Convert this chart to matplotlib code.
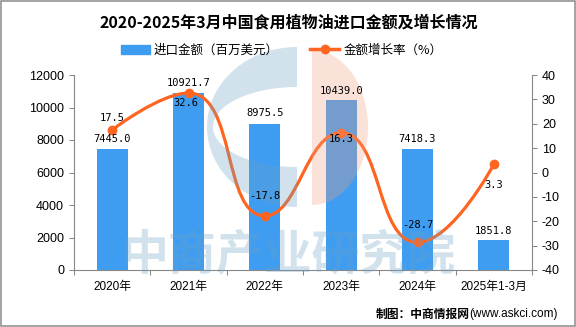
import numpy as np
import matplotlib
matplotlib.use("Agg")
import matplotlib.pyplot as plt
from matplotlib.path import Path
from matplotlib.patches import PathPatch, Polygon, Rectangle, Patch
from matplotlib.lines import Line2D
from matplotlib.transforms import offset_copy

plt.rcParams['font.family'] = ['Liberation Sans', 'Noto Sans CJK SC']
plt.rcParams['axes.unicode_minus'] = False

# data
categories = ['2020年', '2021年', '2022年', '2023年', '2024年', '2025年1-3月']
import_value = [7445.0, 10921.7, 8975.5, 10439.0, 7418.3, 1851.8]   # 百万美元
growth_rate = [17.5, 32.6, -17.8, 16.3, -28.7, 3.3]                 # %

# label offsets (pixels, up is positive) as placed in the original
bar_label_dy = [10, 10, 11, 9, 10, 9]
rate_label_dx = [0, -3, 0, 0, 0, 0]
rate_label_dy = [12, -10, 20, -6, 17, -21]

BAR = '#3f9df1'
LINE = '#fe6520'
GREY = '#888888'
CJK = ['Noto Sans CJK SC', 'DejaVu Sans']
MONO = ['DejaVu Sans Mono']


def echarts_smooth(pts, smooth=0.5):
    # bezier control points the way echarts builds a smooth line
    verts = [pts[0]]
    codes = [Path.MOVETO]
    cp0 = pts[0]
    n = len(pts)
    for i in range(1, n):
        prev, cur = pts[i - 1], pts[i]
        if i == n - 1:
            cp1 = cur
            ncp0 = cur
        else:
            nxt = pts[i + 1]
            l0 = np.hypot(*(cur - prev))
            l1 = np.hypot(*(nxt - cur))
            r = l1 / (l0 + l1)
            v = nxt - prev
            ncp0 = cur + v * smooth * r
            ncp0 = np.clip(ncp0, np.minimum(nxt, cur), np.maximum(nxt, cur))
            cp1 = cur - (ncp0 - cur) * l0 / l1
            cp1 = np.clip(cp1, np.minimum(prev, cur), np.maximum(prev, cur))
            ncp0 = cur + (cur - cp1) * l1 / l0
        verts += [cp0, cp1, cur]
        codes += [Path.CURVE4] * 3
        cp0 = ncp0
    return np.array(verts), codes


fig = plt.figure(figsize=(5.76, 3.27), dpi=100)
ax = fig.add_axes([74 / 576, 57 / 327, 458 / 576, 195 / 327])
x = np.arange(len(categories))

ax.bar(x, import_value, width=0.41, color=BAR, zorder=2)
ax.set_xlim(-0.5, len(categories) - 0.5)
ax.set_ylim(0, 12000)
ax.set_yticks(np.arange(0, 12001, 2000))
ax.set_xticks(np.arange(len(categories) + 1) - 0.5)
ax.set_xticklabels([])
ax.set_xticks(x, minor=True)
ax.set_xticklabels(categories, minor=True)
ax.tick_params(axis='x', which='major', length=3.6, width=0.75, color=GREY)
ax.tick_params(axis='x', which='minor', length=0, pad=8, labelsize=8.5)
ax.tick_params(axis='y', length=3.6, width=0.75, color=GREY, pad=3.6, labelsize=9)
for s in ['top', 'right']:
    ax.spines[s].set_visible(False)
for s in ['left', 'bottom']:
    ax.spines[s].set_color(GREY)
    ax.spines[s].set_linewidth(0.8)

ax2 = ax.twinx()
ax2.set_ylim(-40, 40)
ax2.set_yticks(np.arange(-40, 41, 10))
ax2.tick_params(axis='y', length=3.6, width=0.75, color=GREY, pad=3.6, labelsize=9)
for s in ['top', 'left', 'bottom']:
    ax2.spines[s].set_visible(False)
ax2.spines['right'].set_color(GREY)
ax2.spines['right'].set_linewidth(0.8)

# smooth growth line
pts = ax2.transData.transform(np.column_stack([x, growth_rate]))
verts, codes = echarts_smooth(pts)
verts = ax2.transData.inverted().transform(verts)
ax2.add_patch(PathPatch(Path(verts, codes), fill=False, edgecolor=LINE, lw=2.3,
                        zorder=3, capstyle='round'))
ax2.plot(x, growth_rate, 'o', color=LINE, ms=6, zorder=4)

# watermark layer
ov = fig.add_axes([0, 0, 1, 1], zorder=5)
ov.set_xlim(0, 576)
ov.set_ylim(327, 0)
ov.set_axis_off()
ov.patch.set_alpha(0)

t = np.linspace(np.pi / 2, 3 * np.pi / 2, 80)
outer = np.column_stack([297 + 90 * np.cos(t), 127 - 80 * np.sin(t)])
inner = np.column_stack([297 + 84 * np.cos(t), 127 - 40 * np.sin(t)])
ov.add_patch(Polygon(np.vstack([outer, inner[::-1]]), closed=True,
                     color='#6a9fc6', alpha=0.3, lw=0))
t2 = np.linspace(-np.pi / 2, np.pi / 2, 80)
dshape = np.column_stack([312 + 56 * np.cos(t2), 127.5 - 77.5 * np.sin(t2)])
ov.add_patch(Polygon(dshape, closed=True, color='#f2a07e', alpha=0.3, lw=0))
ov.text(288.5, 256, '中商产业研究院', fontsize=34.5, weight='bold', color='#6a9fc6',
        alpha=0.3, ha='center', va='center', family=CJK)

# border
ov.add_patch(Rectangle((1, 1), 573.5, 324.5, fill=False, ec='#8a8a8a', lw=1.1,
                       clip_on=False))

# data labels on top of everything
for xi, v, dy in zip(x, import_value, bar_label_dy):
    tr = offset_copy(ax.transData, fig=fig, x=0, y=dy, units='dots')
    fig.text(xi, v, f'{v:.1f}', transform=tr, ha='center', va='center',
             fontsize=7.5, family=MONO, zorder=10)
for xi, v, dx, dy in zip(x, growth_rate, rate_label_dx, rate_label_dy):
    tr = offset_copy(ax2.transData, fig=fig, x=dx, y=dy, units='dots')
    fig.text(xi, v, f'{v:.1f}', transform=tr, ha='center', va='center',
             fontsize=7.5, family=MONO, zorder=10)

# title + legend
fig.text(288.5 / 576, 1 - 22.5 / 327, '2020-2025年3月中国食用植物油进口金额及增长情况',
         ha='center', va='center', fontsize=11.5, weight='bold', family=CJK, zorder=10)
handles = [Patch(color=BAR),
           Line2D([], [], color=LINE, lw=2.5, marker='o', ms=6)]
leg = fig.legend(handles, ['进口金额（百万美元）', '金额增长率（%）'], loc='center',
                 bbox_to_anchor=(281.5 / 576, 1 - 50 / 327), ncol=2, frameon=False,
                 prop={'family': CJK, 'size': 9}, handlelength=2.3,
                 handletextpad=0.35, columnspacing=2.5)
leg.set_zorder(10)

# footer
t1 = ov.text(558, 314, '(www.askci.com)', ha='right', va='center', fontsize=8.5)
ov.annotate('制图：中商情报网', xy=(0, 0.5), xycoords=t1, ha='right', va='center',
            fontsize=8.5, weight='bold', family=CJK)

fig.savefig('out.png', dpi=100)
